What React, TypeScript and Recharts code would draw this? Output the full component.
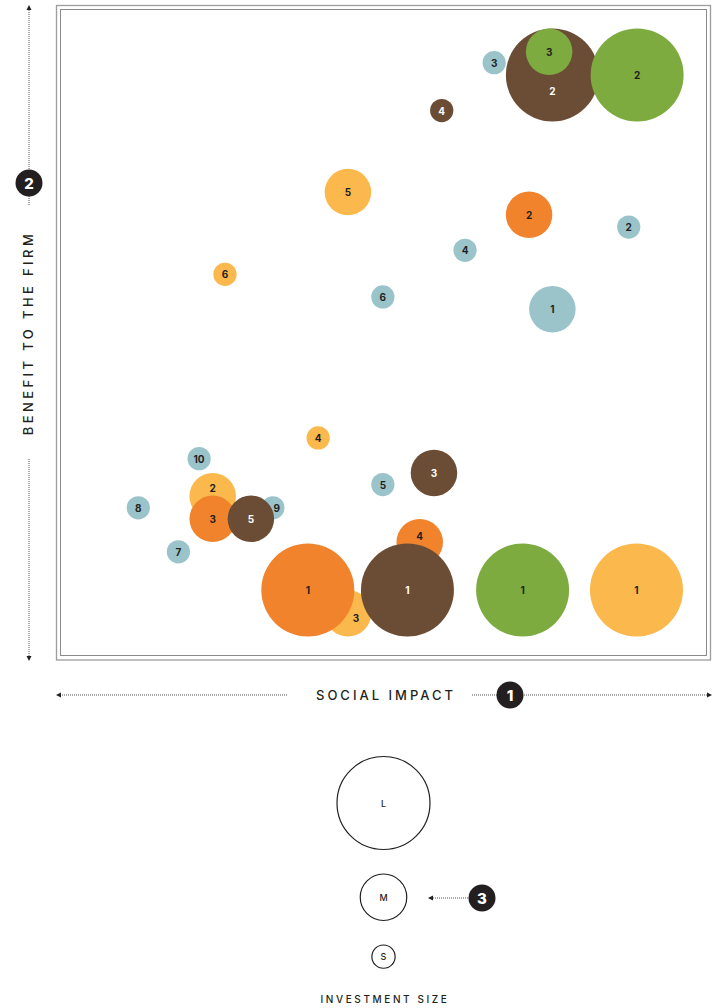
import { ScatterChart, Scatter, XAxis, YAxis, ZAxis } from "recharts"

// investment size: S / M / L, proportional to bubble area
const S = 1
const M = 4
const L = 16

// x = social impact, y = benefit to the firm (0-100)
const tealBubbles = [
    { id: 3, x: 67.1, y: 91.7, z: S },
    { id: 2, x: 87.9, y: 66.3, z: S },
    { id: 4, x: 62.6, y: 62.7, z: S },
    { id: 6, x: 49.9, y: 55.5, z: S },
    { id: 1, x: 76.1, y: 53.6, z: M },
    { id: 10, x: 21.5, y: 30.5, z: S },
    { id: 5, x: 49.9, y: 26.5, z: S },
    { id: 8, x: 12.1, y: 22.9, z: S },
    { id: 9, x: 32.9, y: 22.9, z: S },
    { id: 7, x: 18.3, y: 16.1, z: S },
]

const yellowBubbles = [
    { id: 5, x: 44.5, y: 71.7, z: M },
    { id: 6, x: 25.5, y: 59.0, z: S },
    { id: 4, x: 39.9, y: 33.7, z: S },
    { id: 2, x: 23.6, y: 24.7, z: M },
    { id: 3, x: 44.5, y: 6.6, z: M },
    { id: 1, x: 89.1, y: 10.2, z: L },
]

const orangeBubbles = [
    { id: 2, x: 72.5, y: 68.2, z: M },
    { id: 4, x: 55.6, y: 17.6, z: M },
    { id: 3, x: 23.6, y: 21.2, z: M },
    { id: 1, x: 38.3, y: 10.2, z: L },
]

const brownBubbles = [
    { id: 4, x: 59.0, y: 84.3, z: S },
    { id: 2, x: 76.1, y: 89.8, z: L },
    { id: 3, x: 57.8, y: 28.3, z: M },
    { id: 5, x: 29.5, y: 21.2, z: M },
    { id: 1, x: 53.7, y: 10.2, z: L },
]

const greenBubbles = [
    { id: 3, x: 75.6, y: 93.4, z: M },
    { id: 2, x: 89.2, y: 89.8, z: L },
    { id: 1, x: 71.5, y: 10.2, z: L },
]

const sizeLegend = [
    { label: "L", z: L },
    { label: "M", z: M },
    { label: "S", z: S },
]

const INK = "#231f20"
const FONT = "Inter, 'DejaVu Sans', sans-serif"
const MAX_AREA = Math.PI * 46.5 * 46.5
const radiusFor = (z: number) => Math.sqrt(((z / L) * MAX_AREA) / Math.PI)

// label nudges where bubbles overlap, in px
const nudges: Record<string, Record<number, [number, number]>> = {
    teal: { 9: [4, 0] },
    yellow: { 2: [0, -8], 3: [8, 5] },
    orange: { 4: [0, -6] },
    brown: { 2: [0, 16] },
}

const series = [
    { key: "teal", fill: "#9ac4ca", text: INK, data: tealBubbles },
    { key: "yellow", fill: "#fbb84c", text: INK, data: yellowBubbles },
    { key: "orange", fill: "#f0832c", text: INK, data: orangeBubbles },
    { key: "brown", fill: "#6b4d36", text: "#ffffff", data: brownBubbles },
    { key: "green", fill: "#7dab3f", text: INK, data: greenBubbles },
]

function bubbleShape(key: string, fill: string, textColor: string) {
    return (props: any) => {
        const { cx, cy, width, payload } = props
        const n = nudges[key]?.[payload.id] ?? [0, 0]
        return (
            <g>
                <circle cx={cx} cy={cy} r={width / 2} fill={fill} />
                <text
                    x={cx + n[0]}
                    y={cy + n[1]}
                    textAnchor="middle"
                    dominantBaseline="central"
                    fontFamily={FONT}
                    fontSize={10}
                    fontWeight={700}
                    fill={textColor}
                >
                    {payload.id}
                </text>
            </g>
        )
    }
}

function Badge({ x, y, n }: { x: number; y: number; n: number }) {
    return (
        <g>
            <circle cx={x} cy={y} r={13.5} fill={INK} />
            <text x={x} y={y + 0.5} textAnchor="middle" dominantBaseline="central" fontFamily={FONT} fontSize={15} fontWeight={800} fill="#fff">
                {n}
            </text>
        </g>
    )
}

const dots = { stroke: "#555", strokeWidth: 1, strokeDasharray: "1 1" }

function Decorations() {
    let ly = 803
    const legendCircles = sizeLegend.map((s, i) => {
        const r = radiusFor(s.z)
        if (i > 0) ly += r
        const cy = ly
        ly += r + 24.5
        return (
            <g key={s.label}>
                <circle cx={383.5} cy={cy} r={r} fill="none" stroke={INK} strokeWidth={1.2} />
                <text x={383.5} y={cy} textAnchor="middle" dominantBaseline="central" fontFamily={FONT} fontSize={9} fontWeight={500} fill={INK}>
                    {s.label}
                </text>
            </g>
        )
    })
    return (
        <svg width={716} height={1008} style={{ position: "absolute", left: 0, top: 0 }}>
            {/* double frame */}
            <rect x={56.5} y={5.5} width={654} height={654.5} fill="none" stroke="#9d9d9d" strokeWidth={1.3} />
            <rect x={60.5} y={9.5} width={646} height={646} fill="none" stroke="#8a8a8a" strokeWidth={1} />

            {/* x axis */}
            <line x1={60} y1={695} x2={288} y2={695} {...dots} />
            <polygon points="56,695 61,692.5 61,697.5" fill={INK} />
            <line x1={472} y1={695} x2={708} y2={695} {...dots} />
            <polygon points="712,695 707,692.5 707,697.5" fill={INK} />
            <text x={386} y={695} textAnchor="middle" dominantBaseline="central" fontFamily={FONT} fontSize={13} fontWeight={500} letterSpacing={3} fill={INK}>
                SOCIAL IMPACT
            </text>
            <Badge x={510} y={695} n={1} />

            {/* y axis */}
            <line x1={29} y1={10} x2={29} y2={206} {...dots} />
            <polygon points="29,5 26.5,10 31.5,10" fill={INK} />
            <line x1={29} y1={459} x2={29} y2={656} {...dots} />
            <polygon points="29,661 26.5,656 31.5,656" fill={INK} />
            <text
                x={28}
                y={333}
                transform="rotate(-90 28 333)"
                textAnchor="middle"
                dominantBaseline="central"
                fontFamily={FONT}
                fontSize={13}
                fontWeight={500}
                letterSpacing={3.4}
                fill={INK}
            >
                BENEFIT TO THE FIRM
            </text>
            <Badge x={29} y={183} n={2} />

            {/* size legend */}
            {legendCircles}
            <line x1={433} y1={898} x2={468} y2={898} {...dots} />
            <polygon points="428,898 433,895.5 433,900.5" fill={INK} />
            <Badge x={482} y={898} n={3} />
            <text x={385} y={999} textAnchor="middle" dominantBaseline="central" fontFamily={FONT} fontSize={10} fontWeight={500} letterSpacing={2.6} fill={INK}>
                INVESTMENT SIZE
            </text>
        </svg>
    )
}

export default function App() {
    return (
        <div style={{ position: "absolute", left: 0, top: 0, width: 716, height: 1008, background: "#fff" }}>
            <Decorations />
            <div style={{ position: "absolute", left: 0, top: 0 }}>
                <ScatterChart width={716} height={1008} margin={{ top: 9, right: 9, bottom: 352, left: 60 }}>
                    <XAxis type="number" dataKey="x" domain={[0, 100]} hide />
                    <YAxis type="number" dataKey="y" domain={[0, 100]} hide />
                    <ZAxis type="number" dataKey="z" domain={[0, L]} range={[0, MAX_AREA]} />
                    {series.map((s) => (
                        <Scatter
                            key={s.key}
                            name={s.key}
                            data={s.data}
                            isAnimationActive={false}
                            shape={bubbleShape(s.key, s.fill, s.text)}
                        />
                    ))}
                </ScatterChart>
            </div>
        </div>
    )
}
